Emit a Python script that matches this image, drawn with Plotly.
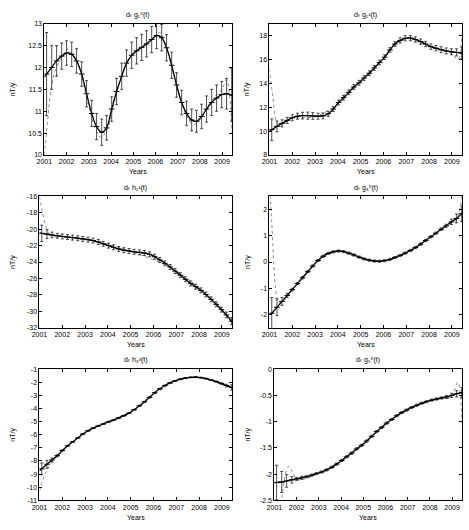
import plotly.graph_objects as go

W, H = 469, 530

BAR_X = [2001.1, 2001.33, 2001.55, 2001.78, 2002.0, 2002.23, 2002.45, 2002.68, 2002.9,
         2003.13, 2003.35, 2003.58, 2003.8, 2004.03, 2004.25, 2004.48, 2004.7, 2004.93,
         2005.15, 2005.38, 2005.6, 2005.83, 2006.05, 2006.28, 2006.5, 2006.73, 2006.95,
         2007.18, 2007.4, 2007.63, 2007.85, 2008.08, 2008.3, 2008.53, 2008.75, 2008.98,
         2009.2, 2009.43]
X_START, X_END = 2001.0, 2009.5
XTICKS = [2001, 2002, 2003, 2004, 2005, 2006, 2007, 2008, 2009]

# ---- panel 1: d_t g_1^0 ----
G10_Y = [11.85, 12.0, 12.15, 12.26, 12.33, 12.3, 12.15, 11.85, 11.4, 10.95, 10.65, 10.52,
         10.62, 11.05, 11.45, 11.8, 12.1, 12.28, 12.38, 12.46, 12.54, 12.64, 12.73, 12.68,
         12.45, 12.05, 11.6, 11.2, 10.95, 10.8, 10.77, 10.88, 11.05, 11.2, 11.3, 11.38,
         11.4, 11.37]
G10_END = [11.78, 11.35]
G10_ERR = [0.95, 0.5, 0.35, 0.3, 0.28, 0.28, 0.28, 0.28, 0.3, 0.3, 0.3, 0.3,
           0.28, 0.28, 0.3, 0.3, 0.3, 0.3, 0.3, 0.3, 0.3, 0.3, 0.3, 0.3,
           0.3, 0.3, 0.28, 0.28, 0.28, 0.25, 0.25, 0.28, 0.3, 0.3, 0.3, 0.3,
           0.35, 0.6]
G10_DX = [2001.0, 2001.15, 2001.3, 2001.5, 2001.8, 2002.05, 2002.3, 2002.6, 2003.0, 2003.3,
          2003.55, 2003.8, 2004.1, 2004.5, 2004.9, 2005.3, 2005.7, 2006.0, 2006.2, 2006.45,
          2006.8, 2007.1, 2007.4, 2007.7, 2008.0, 2008.4, 2008.8, 2009.0, 2009.2, 2009.35,
          2009.45, 2009.5]
G10_DY = [10.0, 10.8, 11.5, 11.95, 12.25, 12.42, 12.3, 11.95, 11.1, 10.6,
          10.4, 10.55, 11.1, 11.85, 12.25, 12.42, 12.55, 12.7, 12.8, 12.55,
          11.9, 11.3, 10.9, 10.7, 10.8, 11.15, 11.4, 11.5, 11.72, 11.3,
          10.5, 10.0]

# ---- panel 2: d_t g_1^1 ----
G11_Y = [10.12, 10.4, 10.65, 10.9, 11.12, 11.25, 11.3, 11.3, 11.27, 11.25, 11.28, 11.45,
         11.85, 12.4, 12.8, 13.25, 13.7, 14.05, 14.45, 14.85, 15.3, 15.75, 16.2, 16.8,
         17.3, 17.6, 17.78, 17.8, 17.68, 17.5, 17.3, 17.08, 16.95, 16.82, 16.72, 16.65,
         16.6, 16.55]
G11_END = [10.0, 16.55]
G11_ERR = [0.9, 0.45, 0.3, 0.25, 0.25, 0.25, 0.28, 0.3, 0.28, 0.25, 0.25, 0.22,
           0.2, 0.2, 0.2, 0.2, 0.2, 0.2, 0.2, 0.2, 0.2, 0.2, 0.2, 0.2,
           0.2, 0.22, 0.22, 0.22, 0.22, 0.22, 0.22, 0.22, 0.22, 0.25, 0.25, 0.25,
           0.3, 0.5]
G11_DX = [2001.0, 2001.15, 2001.3, 2001.45, 2001.7, 2002.0, 2003.0, 2004.0, 2005.0, 2006.0,
          2007.0, 2008.0, 2008.8, 2009.1, 2009.25, 2009.35, 2009.42, 2009.5]
G11_DY = [15.2, 12.8, 10.8, 10.4, 10.7, 11.1, 11.2, 12.3, 14.2, 16.1,
          17.75, 17.1, 16.7, 16.3, 16.0, 16.3, 17.5, 19.0]

# ---- panel 3: d_t h_1^1 ----
H11_Y = [-20.5, -20.6, -20.7, -20.8, -20.88, -20.95, -21.02, -21.1, -21.18, -21.27, -21.38,
         -21.55, -21.78, -22.0, -22.2, -22.4, -22.55, -22.65, -22.75, -22.82, -22.9, -23.05,
         -23.35, -23.75, -24.15, -24.6, -25.1, -25.6, -26.1, -26.6, -27.0, -27.45, -27.95,
         -28.55, -29.15, -29.8, -30.45, -31.2]
H11_END = [-20.45, -31.45]
H11_ERR = [1.0, 0.55, 0.35, 0.3, 0.3, 0.3, 0.3, 0.3, 0.3, 0.3, 0.3, 0.3,
           0.3, 0.3, 0.3, 0.3, 0.3, 0.3, 0.3, 0.3, 0.3, 0.3, 0.3, 0.3,
           0.3, 0.3, 0.3, 0.3, 0.3, 0.3, 0.3, 0.3, 0.3, 0.3, 0.3, 0.3,
           0.35, 0.45]
H11_DX = [2001.0, 2001.15, 2001.3, 2001.45, 2001.7, 2003.0, 2005.0, 2007.0, 2009.0, 2009.5]
H11_DY = [-16.0, -18.2, -19.8, -20.6, -20.8, -21.2, -22.7, -25.1, -29.8, -31.7]

# ---- panel 4: d_t g_3^0 ----
G30_Y = [-1.95, -1.72, -1.5, -1.27, -1.05, -0.82, -0.6, -0.37, -0.15, 0.06, 0.22, 0.33,
         0.39, 0.42, 0.4, 0.34, 0.27, 0.19, 0.12, 0.07, 0.04, 0.03, 0.05, 0.1,
         0.17, 0.25, 0.34, 0.44, 0.55, 0.68, 0.82, 0.96, 1.1, 1.25, 1.38, 1.53,
         1.66, 1.84]
G30_END = [-2.0, 1.9]
G30_ERR = [0.6, 0.32, 0.15, 0.08, 0.05, 0.04, 0.04, 0.04, 0.04, 0.04, 0.04, 0.04,
           0.04, 0.04, 0.04, 0.04, 0.04, 0.04, 0.04, 0.04, 0.04, 0.04, 0.04, 0.04,
           0.04, 0.04, 0.04, 0.04, 0.04, 0.04, 0.04, 0.04, 0.04, 0.05, 0.06, 0.1,
           0.17, 0.3]
G30_DX = [2001.0, 2001.1, 2001.2, 2001.3, 2001.4, 2001.6, 2002.0, 2003.0, 2004.0, 2005.0,
          2006.0, 2007.0, 2008.0, 2009.0, 2009.2, 2009.35, 2009.45]
G30_DY = [3.0, 1.5, -0.2, -1.2, -1.55, -1.5, -1.05, -0.05, 0.42, 0.15,
          0.05, 0.38, 0.95, 1.5, 1.6, 2.0, 2.6]

# ---- panel 5: d_t h_3^3 ----
H33_Y = [-8.6, -8.25, -7.92, -7.6, -7.2, -6.85, -6.55, -6.25, -5.95, -5.7, -5.5, -5.33,
         -5.18, -5.02, -4.88, -4.72, -4.55, -4.35, -4.1, -3.8, -3.5, -3.15, -2.8, -2.5,
         -2.25, -2.05, -1.9, -1.77, -1.68, -1.63, -1.61, -1.65, -1.72, -1.83, -1.95, -2.1,
         -2.25, -2.4]
H33_END = [-8.75, -2.45]
H33_ERR = [0.45, 0.3, 0.15, 0.08, 0.05, 0.04, 0.04, 0.04, 0.04, 0.04, 0.04, 0.04,
           0.04, 0.04, 0.04, 0.04, 0.04, 0.04, 0.04, 0.04, 0.04, 0.04, 0.04, 0.04,
           0.04, 0.04, 0.04, 0.04, 0.04, 0.04, 0.04, 0.04, 0.04, 0.04, 0.05, 0.06,
           0.1, 0.2]
H33_DX = [2001.0, 2001.15, 2001.3, 2001.5, 2001.8, 2003.0, 2005.0, 2007.0, 2008.0, 2009.0, 2009.5]
H33_DY = [-10.3, -9.4, -8.8, -8.2, -7.6, -5.8, -4.25, -1.88, -1.65, -2.15, -2.5]

# ---- panel 6: d_t g_5^0 ----
G50_Y = [-2.16, -2.15, -2.13, -2.11, -2.09, -2.07, -2.05, -2.02, -1.99, -1.96, -1.92, -1.87,
         -1.81, -1.74, -1.67, -1.6, -1.52, -1.45, -1.37, -1.28, -1.19, -1.11, -1.03, -0.96,
         -0.89, -0.83, -0.78, -0.73, -0.69, -0.65, -0.62, -0.59, -0.57, -0.55, -0.53, -0.5,
         -0.47, -0.45]
G50_END = [-2.16, -0.44]
G50_ERR = [0.33, 0.2, 0.12, 0.06, 0.03, 0.03, 0.02, 0.02, 0.02, 0.02, 0.02, 0.02,
           0.02, 0.02, 0.02, 0.02, 0.02, 0.02, 0.02, 0.02, 0.02, 0.02, 0.02, 0.02,
           0.02, 0.02, 0.02, 0.02, 0.02, 0.02, 0.02, 0.02, 0.02, 0.02, 0.03, 0.04,
           0.06, 0.1]
G50_DX = [2001.0, 2001.2, 2001.35, 2001.5, 2001.65, 2001.8, 2002.0, 2002.3, 2003.0, 2004.0,
          2005.0, 2006.0, 2007.0, 2008.0, 2008.5, 2008.9, 2009.1, 2009.25, 2009.35, 2009.45, 2009.5]
G50_DY = [-3.0, -2.7, -2.4, -2.0, -1.85, -1.95, -2.1, -2.1, -1.98, -1.75,
          -1.44, -1.04, -0.77, -0.6, -0.55, -0.55, -0.4, -0.25, -0.4, -1.0, -1.35]

TITLES = ["dₜ g₁⁰(t)", "dₜ g₁¹(t)", "dₜ h₁¹(t)", "dₜ g₃⁰(t)", "dₜ h₃³(t)", "dₜ g₅⁰(t)"]

Y_TICKS = [
    [10, 10.5, 11, 11.5, 12, 12.5, 13],
    [8, 10, 12, 14, 16, 18],
    [-32, -30, -28, -26, -24, -22, -20, -18, -16],
    [-2, -1, 0, 1, 2],
    [-11, -10, -9, -8, -7, -6, -5, -4, -3, -2, -1],
    [-2.5, -2, -1.5, -1, -0.5, 0],
]
Y_TICKTEXT = [
    ["10", "10.5", "11", "11.5", "12", "12.5", "13"],
    ["8", "10", "12", "14", "16", "18"],
    ["-32", "-30", "-28", "-26", "-24", "-22", "-20", "-18", "-16"],
    ["-2", "-1", "0", "1", "2"],
    ["-11", "-10", "-9", "-8", "-7", "-6", "-5", "-4", "-3", "-2", "-1"],
    ["-2.5", "-2", "-1.5", "-1", "-0.5", "0"],
]
Y_RANGES = [[10, 13], [8, 19], [-32, -16], [-2.5, 2.5], [-11, -1], [-2.5, 0]]

PANELS = [
    (G10_Y, G10_END, G10_ERR, G10_DX, G10_DY),
    (G11_Y, G11_END, G11_ERR, G11_DX, G11_DY),
    (H11_Y, H11_END, H11_ERR, H11_DX, H11_DY),
    (G30_Y, G30_END, G30_ERR, G30_DX, G30_DY),
    (H33_Y, H33_END, H33_ERR, H33_DX, H33_DY),
    (G50_Y, G50_END, G50_ERR, G50_DX, G50_DY),
]

# plot-area boxes in pixels: (left, right, top, bottom)
BOXES = [
    (37, 228, 20, 153), (266, 462, 20, 153),
    (32, 228, 195, 328), (266, 462, 195, 328),
    (32, 228, 370, 503), (271, 462, 370, 503),
]
YLAB_X = [5, 244, 5, 244, 5, 244]

FONT = "Liberation Sans, DejaVu Sans, sans-serif"
fig = go.Figure()
layout = dict(width=W, height=H, margin=dict(l=0, r=0, t=0, b=0),
              paper_bgcolor="white", plot_bgcolor="white", showlegend=False,
              font=dict(family=FONT, size=7, color="black"))
annotations = []

for i, (yc, yend, err, dx, dy) in enumerate(PANELS):
    n = i + 1
    xa = "x" if n == 1 else f"x{n}"
    ya = "y" if n == 1 else f"y{n}"
    l, r, t, b = BOXES[i]
    # dotted comparison curve
    fig.add_trace(go.Scatter(x=dx, y=dy, mode="lines", xaxis=xa, yaxis=ya,
                             line=dict(color="#8a8a8a", width=1, dash="dot", shape="spline"),
                             hoverinfo="skip"))
    # solid curve
    fig.add_trace(go.Scatter(x=[X_START] + BAR_X + [X_END], y=[yend[0]] + yc + [yend[1]],
                             mode="lines", xaxis=xa, yaxis=ya,
                             line=dict(color="black", width=1.3, shape="spline", smoothing=1.0)))
    # error bars
    fig.add_trace(go.Scatter(x=BAR_X, y=yc, mode="markers", xaxis=xa, yaxis=ya,
                             marker=dict(symbol="line-ew", size=4,
                                         line=dict(color="black", width=1)),
                             error_y=dict(type="data", array=err, visible=True,
                                          color="#222222", thickness=0.8, width=1.5)))
    axcommon = dict(showgrid=False, zeroline=False, showline=True, linecolor="black",
                    linewidth=1, mirror="allticks", ticks="inside", ticklen=3,
                    tickcolor="black", tickwidth=1,
                    tickfont=dict(family=FONT, size=7, color="black"))
    layout["xaxis" if n == 1 else f"xaxis{n}"] = dict(
        domain=[l / W, r / W], range=[2001, 2009.45], anchor=ya,
        tickvals=XTICKS, ticktext=[str(v) for v in XTICKS], **axcommon)
    layout["yaxis" if n == 1 else f"yaxis{n}"] = dict(
        domain=[1 - b / H, 1 - t / H], range=Y_RANGES[i], anchor=xa,
        tickvals=Y_TICKS[i], ticktext=Y_TICKTEXT[i], **axcommon)
    cx = (l + r) / 2
    annotations.append(dict(text=TITLES[i], x=cx / W, y=1 - (t - 9) / H, xref="paper", yref="paper",
                            showarrow=False, font=dict(family=FONT, size=7, color="black"),
                            xanchor="center", yanchor="middle"))
    annotations.append(dict(text="Years", x=cx / W, y=1 - (b + 17) / H, xref="paper", yref="paper",
                            showarrow=False, font=dict(family=FONT, size=7, color="black"),
                            xanchor="center", yanchor="middle"))
    annotations.append(dict(text="nT/y", x=YLAB_X[i] / W, y=1 - ((t + b) / 2) / H, xref="paper", yref="paper",
                            showarrow=False, textangle=-90, font=dict(family=FONT, size=7, color="black"),
                            xanchor="center", yanchor="middle"))

layout["annotations"] = annotations
fig.update_layout(**layout)
fig.write_html("out.html")
